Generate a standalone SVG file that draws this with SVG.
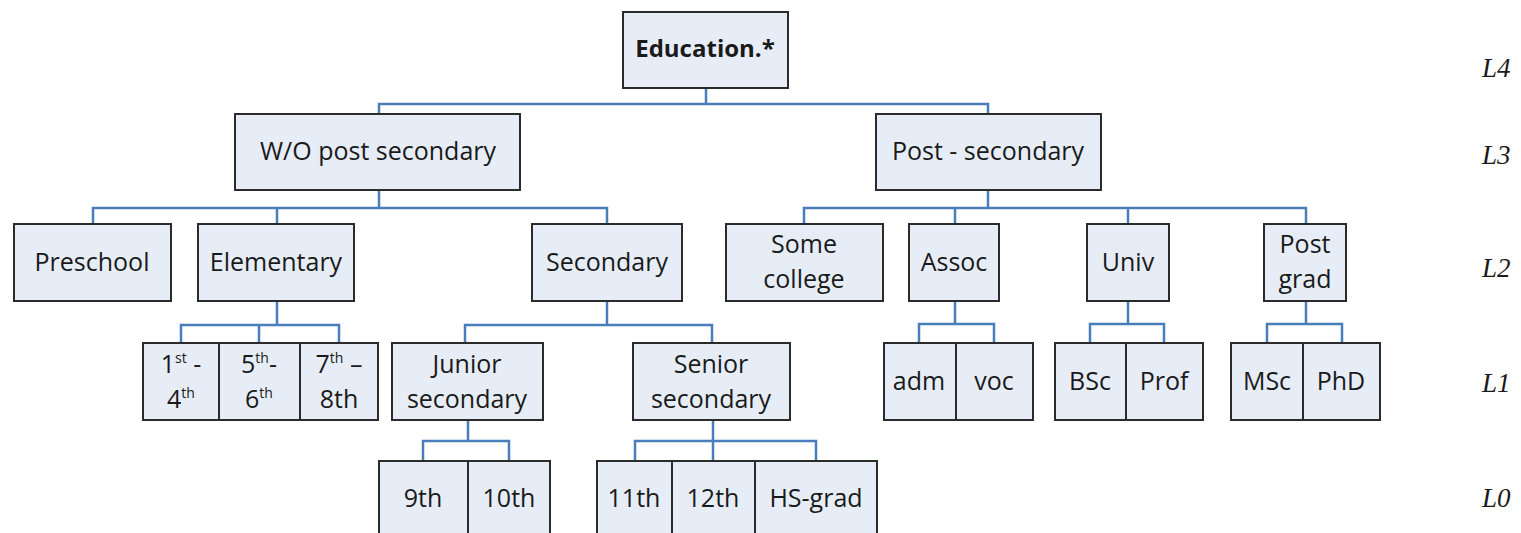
<svg xmlns="http://www.w3.org/2000/svg" width="1521" height="533" viewBox="0 0 1521 533">
  <style>
    .box { fill: #E7EDF6; stroke: #2b2b2b; stroke-width: 2; }
    .div { stroke: #2b2b2b; stroke-width: 2; }
    .lbl { font-family: "Open Sans", "Liberation Sans", sans-serif; font-size: 25px; fill: #1a1a1a; text-anchor: middle; }
    .bold { font-weight: bold; font-size: 24px; }
    .sup { font-size: 14px; }
    .lvl { font-family: "Liberation Serif", serif; font-style: italic; font-size: 27px; fill: #1a1a1a; }
    .wire { fill: none; stroke: #4A7EBB; stroke-width: 2.5; }
  </style>

  <!-- tree wiring -->
  <g id="connectors">
    <path class="wire" d="M706 88V104M379 114V104H988V114"/>
    <path class="wire" d="M379 190V208M93 224V208H607V224M277 208V224"/>
    <path class="wire" d="M988 190V208M804 224V208H1306V224M955 208V224M1128 208V224"/>
    <path class="wire" d="M277 301V325M181 343V325H339V343M259 325V343"/>
    <path class="wire" d="M607 301V325M465 343V325H712V343"/>
    <path class="wire" d="M955 301V324M919 343V324H994V343"/>
    <path class="wire" d="M1128 301V324M1090 343V324H1164V343"/>
    <path class="wire" d="M1306 301V324M1267 343V324H1342V343"/>
    <path class="wire" d="M468 420V441M423 461V441H509V461"/>
    <path class="wire" d="M713 420V441M635 461V441H816V461M713 441V461"/>
  </g>

  <!-- L4 -->
  <g id="education">
    <rect class="box" x="623" y="12" width="165" height="76"/>
    <text class="lbl bold" x="705" y="57">Education.*</text>
  </g>

  <!-- L3 -->
  <g id="wo-post-secondary">
    <rect class="box" x="235" y="114" width="285" height="76"/>
    <text class="lbl" x="378" y="160">W/O post secondary</text>
  </g>
  <g id="post-secondary">
    <rect class="box" x="876" y="114" width="225" height="76"/>
    <text class="lbl" x="988" y="160">Post - secondary</text>
  </g>

  <!-- L2 -->
  <g id="preschool">
    <rect class="box" x="14" y="224" width="157" height="77"/>
    <text class="lbl" x="92" y="271">Preschool</text>
  </g>
  <g id="elementary">
    <rect class="box" x="198" y="224" width="156" height="77"/>
    <text class="lbl" x="276" y="271">Elementary</text>
  </g>
  <g id="secondary">
    <rect class="box" x="532" y="224" width="150" height="77"/>
    <text class="lbl" x="607" y="271">Secondary</text>
  </g>
  <g id="some-college">
    <rect class="box" x="726" y="224" width="157" height="77"/>
    <text class="lbl" x="804" y="253">Some</text>
    <text class="lbl" x="804" y="288">college</text>
  </g>
  <g id="assoc">
    <rect class="box" x="909" y="224" width="90" height="77"/>
    <text class="lbl" x="954" y="271">Assoc</text>
  </g>
  <g id="univ">
    <rect class="box" x="1087" y="224" width="82" height="77"/>
    <text class="lbl" x="1128" y="271">Univ</text>
  </g>
  <g id="post-grad">
    <rect class="box" x="1264" y="224" width="82" height="77"/>
    <text class="lbl" x="1305" y="253">Post</text>
    <text class="lbl" x="1305" y="288">grad</text>
  </g>

  <!-- L1 -->
  <g id="grades-1-8">
    <rect class="box" x="143" y="343" width="235" height="77"/>
    <line class="div" x1="219" y1="343" x2="219" y2="420"/>
    <line class="div" x1="300" y1="343" x2="300" y2="420"/>
    <text class="lbl" x="181" y="373">1<tspan class="sup" dy="-10">st</tspan><tspan dy="10"> -</tspan></text>
    <text class="lbl" x="181" y="408">4<tspan class="sup" dy="-10">th</tspan></text>
    <text class="lbl" x="259" y="373">5<tspan class="sup" dy="-10">th</tspan><tspan dy="10">-</tspan></text>
    <text class="lbl" x="259" y="408">6<tspan class="sup" dy="-10">th</tspan></text>
    <text class="lbl" x="339" y="373">7<tspan class="sup" dy="-10">th</tspan><tspan dy="10"> –</tspan></text>
    <text class="lbl" x="339" y="408">8th</text>
  </g>
  <g id="junior-secondary">
    <rect class="box" x="392" y="343" width="151" height="77"/>
    <text class="lbl" x="467" y="373">Junior</text>
    <text class="lbl" x="467" y="408">secondary</text>
  </g>
  <g id="senior-secondary">
    <rect class="box" x="633" y="343" width="157" height="77"/>
    <text class="lbl" x="711" y="373">Senior</text>
    <text class="lbl" x="711" y="408">secondary</text>
  </g>
  <g id="assoc-types">
    <rect class="box" x="884" y="343" width="149" height="77"/>
    <line class="div" x1="956" y1="343" x2="956" y2="420"/>
    <text class="lbl" x="919" y="390">adm</text>
    <text class="lbl" x="994" y="390">voc</text>
  </g>
  <g id="univ-types">
    <rect class="box" x="1055" y="343" width="148" height="77"/>
    <line class="div" x1="1126" y1="343" x2="1126" y2="420"/>
    <text class="lbl" x="1090" y="390">BSc</text>
    <text class="lbl" x="1164" y="390">Prof</text>
  </g>
  <g id="post-grad-types">
    <rect class="box" x="1231" y="343" width="149" height="77"/>
    <line class="div" x1="1303" y1="343" x2="1303" y2="420"/>
    <text class="lbl" x="1267" y="390">MSc</text>
    <text class="lbl" x="1341" y="390">PhD</text>
  </g>

  <!-- L0 -->
  <g id="grades-9-10">
    <rect class="box" x="379" y="461" width="171" height="90"/>
    <line class="div" x1="468" y1="461" x2="468" y2="551"/>
    <text class="lbl" x="423" y="507">9th</text>
    <text class="lbl" x="509" y="507">10th</text>
  </g>
  <g id="grades-11-grad">
    <rect class="box" x="597" y="461" width="280" height="90"/>
    <line class="div" x1="672" y1="461" x2="672" y2="551"/>
    <line class="div" x1="755" y1="461" x2="755" y2="551"/>
    <text class="lbl" x="634" y="507">11th</text>
    <text class="lbl" x="713" y="507">12th</text>
    <text class="lbl" x="816" y="507">HS-grad</text>
  </g>

  <!-- level markers -->
  <g id="levels">
    <text class="lvl" x="1482" y="77">L4</text>
    <text class="lvl" x="1482" y="164">L3</text>
    <text class="lvl" x="1482" y="277">L2</text>
    <text class="lvl" x="1482" y="392">L1</text>
    <text class="lvl" x="1482" y="507">L0</text>
  </g>
</svg>
